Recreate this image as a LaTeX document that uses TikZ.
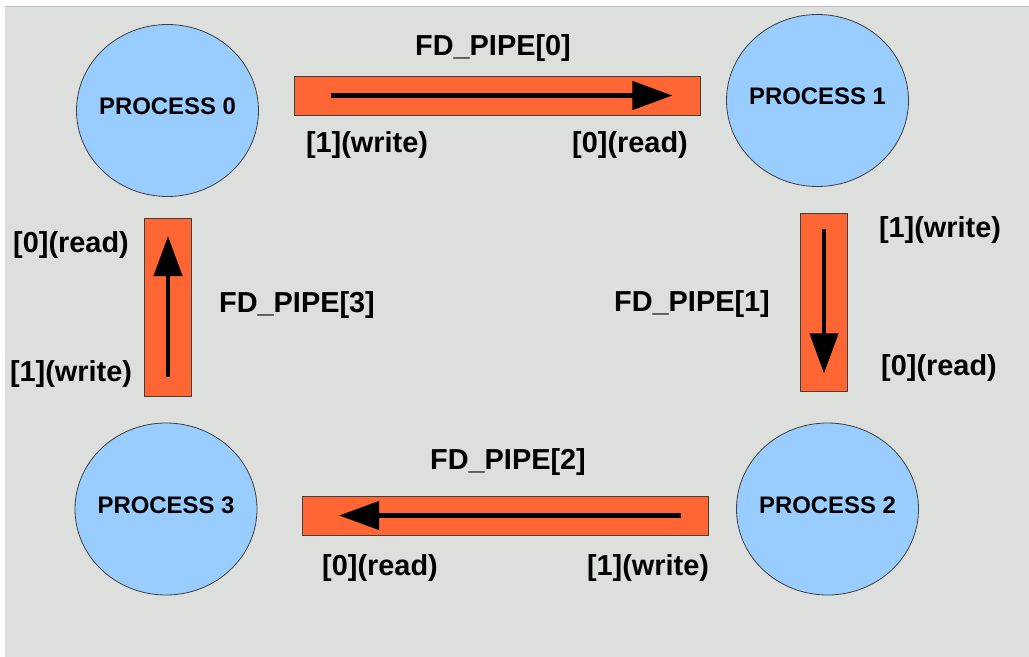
\documentclass[tikz,border=0pt]{standalone}
\usepackage{fontspec}
\setmainfont{Liberation Sans}
\usetikzlibrary{shapes.geometric,arrows.meta,calc}
\definecolor{bggray}{RGB}{220,223,219}
\definecolor{topline}{RGB}{192,192,200}
\definecolor{procblue}{RGB}{153,204,255}
\definecolor{pipeorange}{RGB}{255,102,51}
\definecolor{edgegray}{RGB}{64,64,64}
\newcommand{\proclabel}[1]{\makebox[0pt]{\raisebox{-4.2bp}[0pt][0pt]{#1}}}
\tikzset{
  proc/.style={ellipse, draw=edgegray, line width=0.8bp, fill=procblue,
    minimum width=182bp, minimum height=172bp, inner sep=0pt,
    font=\fontsize{24}{26}\selectfont\bfseries},
  hpipe/.style={rectangle, draw=edgegray, line width=0.8bp, fill=pipeorange,
    minimum width=406bp, minimum height=39bp, inner sep=0pt},
  vpipe/.style={rectangle, draw=edgegray, line width=0.8bp, fill=pipeorange,
    minimum width=47bp, minimum height=178bp, inner sep=0pt},
  flow/.style={line width=4.5bp, -{Triangle[length=40bp,width=28bp]}},
  lbl/.style={inner sep=0pt, font=\fontsize{29}{32}\selectfont\bfseries},
}
\begin{document}
\begin{tikzpicture}[x=1bp,y=-1bp]
\useasboundingbox (0,0) rectangle (1029,657);
\fill[white] (0,0) rectangle (1029,657);
\fill[bggray] (5,7) rectangle (1029,657);
\draw[topline, line width=1.2bp] (5,6.5) -- (1029,6.5);

% processes
\node[proc] (p0) at (167.5,110.5) {\proclabel{PROCESS 0}};
\node[proc] (p1) at (817.5,100.5) {\proclabel{PROCESS 1}};
\node[proc] (p2) at (827.5,509) {\proclabel{PROCESS 2}};
\node[proc] (p3) at (166,509) {\proclabel{PROCESS 3}};

% pipes
\node[hpipe] (pipe0) at (497,95.5) {};
\node[vpipe] (pipe1) at (824,302) {};
\node[hpipe] (pipe2) at (505.5,515.5) {};
\node[vpipe] (pipe3) at (168,307.5) {};

% arrows in pipes
\draw[flow] ($(pipe0.west)+(37,0)$) -- ($(pipe0.east)+(-28,0)$);
\draw[flow] ($(pipe1.north)+(0,16)$) -- ($(pipe1.south)+(0,-18)$);
\draw[flow] ($(pipe2.east)+(-28,0)$) -- ($(pipe2.west)+(37,0)$);
\draw[flow] ($(pipe3.south)+(0,-20)$) -- ($(pipe3.north)+(0,18)$);

% labels
\node[lbl] (n0) at (493,48) {FD\_PIPE[0]};
\node[lbl] (w0) at (367,145) {[1](write)};
\node[lbl] (r0) at (630,145) {[0](read)};

\node[lbl] (n1) at (692,304) {FD\_PIPE[1]};
\node[lbl] (w1) at (940,230) {[1](write)};
\node[lbl] (r1) at (939,368) {[0](read)};

\node[lbl] (n2) at (508,462) {FD\_PIPE[2]};
\node[lbl] (r2) at (380,568) {[0](read)};
\node[lbl] (w2) at (648,568) {[1](write)};

\node[lbl] (n3) at (297,305) {FD\_PIPE[3]};
\node[lbl] (r3) at (71,245) {[0](read)};
\node[lbl] (w3) at (71,374) {[1](write)};
\end{tikzpicture}
\end{document}
